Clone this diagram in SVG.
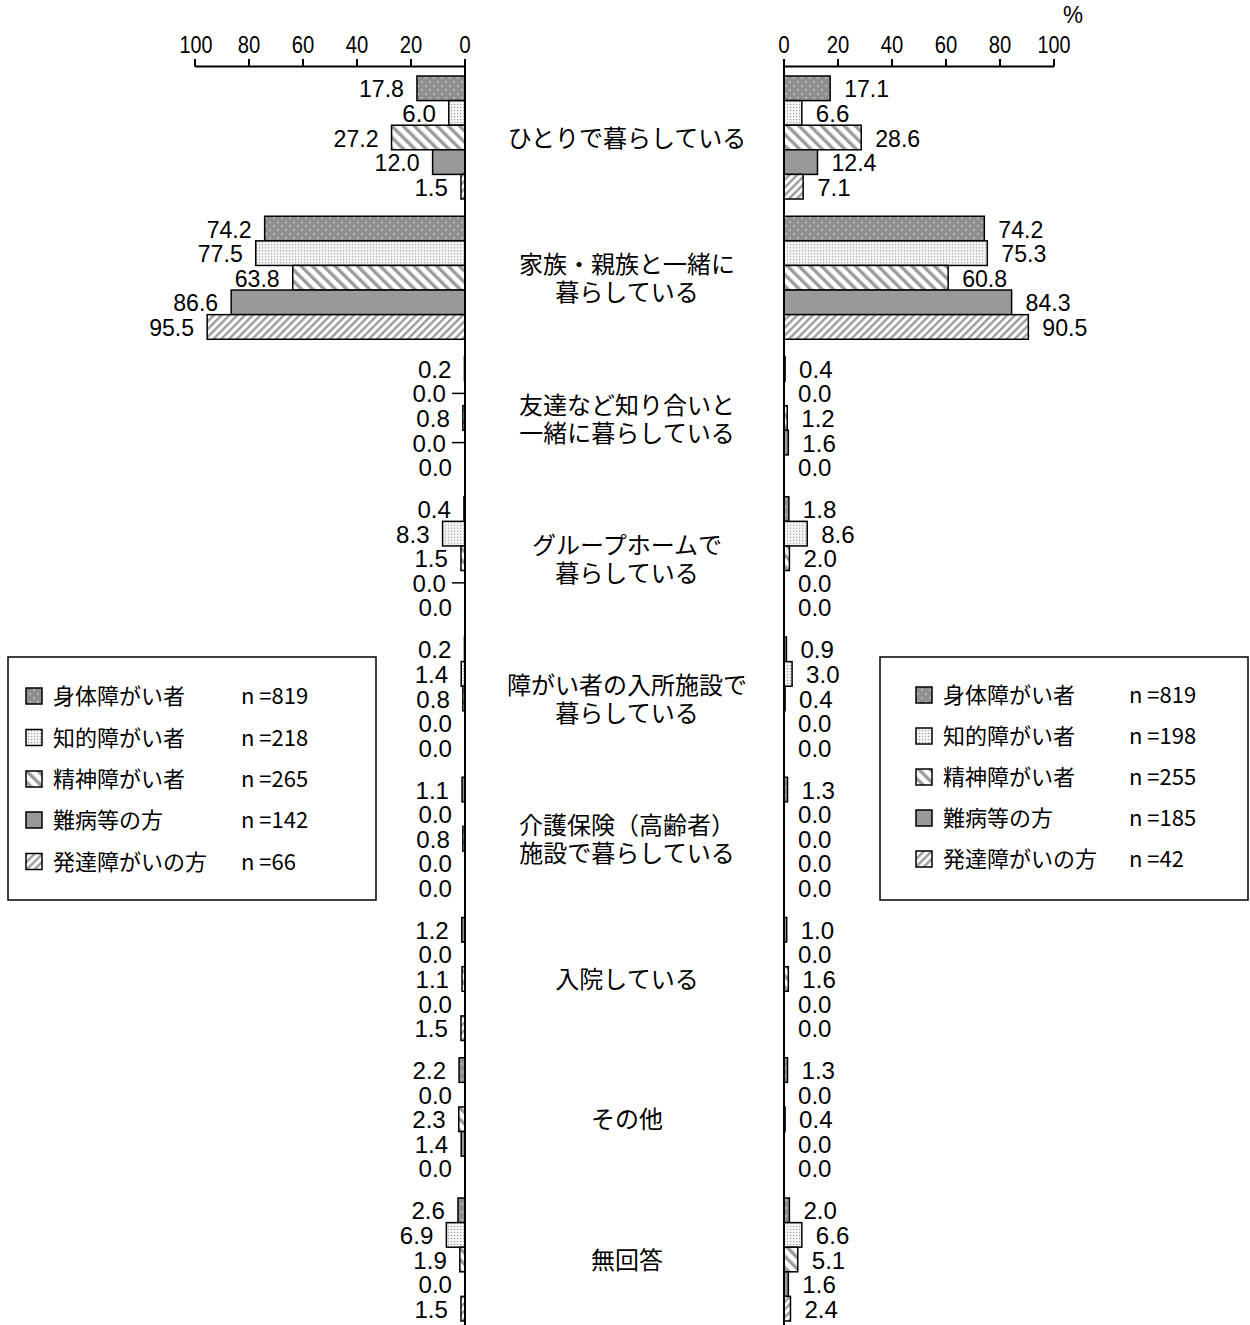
<svg xmlns="http://www.w3.org/2000/svg" width="1250" height="1325" viewBox="0 0 1250 1325">
<defs>
<pattern id="p1" width="8" height="8" patternUnits="userSpaceOnUse"><rect width="8" height="8" fill="#8e8e8e"/><path d="M2 0.8v2.4M0.8 2h2.4M6 4.8v2.4M4.8 6h2.4" stroke="#c6c6c6" stroke-width="0.8"/></pattern>
<pattern id="p2" width="3" height="3" patternUnits="userSpaceOnUse"><rect width="3" height="3" fill="#f4f4f4"/><rect x="1" y="1" width="1.1" height="1.1" fill="#9a9a9a"/></pattern>
<pattern id="p3" width="8" height="8" patternUnits="userSpaceOnUse" patternTransform="rotate(-45)"><rect width="8" height="8" fill="#fff"/><rect width="3.4" height="8" fill="#9c9c9c"/></pattern>
<pattern id="p5" width="5.5" height="5.5" patternUnits="userSpaceOnUse" patternTransform="rotate(45)"><rect width="5.5" height="5.5" fill="#fff"/><rect width="2.4" height="5.5" fill="#9c9c9c"/></pattern>
</defs>
<style>
.b{stroke:#000;stroke-width:1.5}
.f1{fill:url(#p1)}
.f2{fill:url(#p2)}
.f3{fill:url(#p3)}
.f4{fill:#999}
.f5{fill:url(#p5)}
.v{font-family:"Liberation Sans","DejaVu Sans",sans-serif;font-size:24px;fill:#000}
.l{text-anchor:end}
.t{text-anchor:middle}
.c{font-family:"Noto Sans CJK JP","Noto Sans",sans-serif;font-size:24px;fill:#000;text-anchor:middle}
.lg{font-family:"Noto Sans CJK JP","Noto Sans",sans-serif;font-size:22px;fill:#000}
.ax{stroke:#000;stroke-width:2;fill:none}
.dash{stroke:#000;stroke-width:1.5}
.box{fill:#fff;stroke:#000;stroke-width:1.5}
</style>
<rect width="1250" height="1325" fill="#fff"/>

<g id="cat1" transform="translate(0,76)">
<rect class="b f1" x="416.94" y="0" width="48.06" height="24.6"/>
<rect class="b f2" x="448.8" y="24.6" width="16.2" height="24.6"/>
<rect class="b f3" x="391.56" y="49.2" width="73.44" height="24.6"/>
<rect class="b f4" x="432.6" y="73.8" width="32.4" height="24.6"/>
<rect class="b f5" x="460.95" y="98.4" width="4.05" height="24.6"/>
<text class="v l" x="403.94" y="21.3" textLength="45" lengthAdjust="spacingAndGlyphs">17.8</text>
<text class="v l" x="435.8" y="45.9" textLength="33.5" lengthAdjust="spacingAndGlyphs">6.0</text>
<text class="v l" x="378.56" y="70.5" textLength="45" lengthAdjust="spacingAndGlyphs">27.2</text>
<text class="v l" x="419.6" y="95.1" textLength="45" lengthAdjust="spacingAndGlyphs">12.0</text>
<text class="v l" x="447.95" y="119.7" textLength="33.5" lengthAdjust="spacingAndGlyphs">1.5</text>
<rect class="b f1" x="784" y="0" width="46.17" height="24.6"/>
<rect class="b f2" x="784" y="24.6" width="17.82" height="24.6"/>
<rect class="b f3" x="784" y="49.2" width="77.22" height="24.6"/>
<rect class="b f4" x="784" y="73.8" width="33.48" height="24.6"/>
<rect class="b f5" x="784" y="98.4" width="19.17" height="24.6"/>
<text class="v" x="844.17" y="21.3" textLength="45" lengthAdjust="spacingAndGlyphs">17.1</text>
<text class="v" x="815.82" y="45.9" textLength="33.5" lengthAdjust="spacingAndGlyphs">6.6</text>
<text class="v" x="875.22" y="70.5" textLength="45" lengthAdjust="spacingAndGlyphs">28.6</text>
<text class="v" x="831.48" y="95.1" textLength="45" lengthAdjust="spacingAndGlyphs">12.4</text>
<text class="v" x="817.17" y="119.7" textLength="33.5" lengthAdjust="spacingAndGlyphs">7.1</text>
<text class="c" x="627" y="70.5">ひとりで暮らしている</text>
</g>

<g id="cat2" transform="translate(0,216.25)">
<rect class="b f1" x="264.66" y="0" width="200.34" height="24.6"/>
<rect class="b f2" x="255.75" y="24.6" width="209.25" height="24.6"/>
<rect class="b f3" x="292.74" y="49.2" width="172.26" height="24.6"/>
<rect class="b f4" x="231.18" y="73.8" width="233.82" height="24.6"/>
<rect class="b f5" x="207.15" y="98.4" width="257.85" height="24.6"/>
<text class="v l" x="251.66" y="21.3" textLength="45" lengthAdjust="spacingAndGlyphs">74.2</text>
<text class="v l" x="242.75" y="45.9" textLength="45" lengthAdjust="spacingAndGlyphs">77.5</text>
<text class="v l" x="279.74" y="70.5" textLength="45" lengthAdjust="spacingAndGlyphs">63.8</text>
<text class="v l" x="218.18" y="95.1" textLength="45" lengthAdjust="spacingAndGlyphs">86.6</text>
<text class="v l" x="194.15" y="119.7" textLength="45" lengthAdjust="spacingAndGlyphs">95.5</text>
<rect class="b f1" x="784" y="0" width="200.34" height="24.6"/>
<rect class="b f2" x="784" y="24.6" width="203.31" height="24.6"/>
<rect class="b f3" x="784" y="49.2" width="164.16" height="24.6"/>
<rect class="b f4" x="784" y="73.8" width="227.61" height="24.6"/>
<rect class="b f5" x="784" y="98.4" width="244.35" height="24.6"/>
<text class="v" x="998.34" y="21.3" textLength="45" lengthAdjust="spacingAndGlyphs">74.2</text>
<text class="v" x="1001.31" y="45.9" textLength="45" lengthAdjust="spacingAndGlyphs">75.3</text>
<text class="v" x="962.16" y="70.5" textLength="45" lengthAdjust="spacingAndGlyphs">60.8</text>
<text class="v" x="1025.61" y="95.1" textLength="45" lengthAdjust="spacingAndGlyphs">84.3</text>
<text class="v" x="1042.35" y="119.7" textLength="45" lengthAdjust="spacingAndGlyphs">90.5</text>
<text class="c" x="627" y="57">家族・親族と一緒に</text>
<text class="c" x="627" y="85">暮らしている</text>
</g>

<g id="cat3" transform="translate(0,356.5)">
<rect class="b f1" x="464.46" y="0" width="0.54" height="24.6"/>
<rect class="b f3" x="462.84" y="49.2" width="2.16" height="24.6"/>
<line class="dash" x1="452" y1="36.9" x2="465" y2="36.9"/>
<line class="dash" x1="452" y1="86.1" x2="465" y2="86.1"/>
<text class="v l" x="451.46" y="21.3" textLength="33.5" lengthAdjust="spacingAndGlyphs">0.2</text>
<text class="v l" x="446" y="45.9" textLength="33.5" lengthAdjust="spacingAndGlyphs">0.0</text>
<text class="v l" x="449.84" y="70.5" textLength="33.5" lengthAdjust="spacingAndGlyphs">0.8</text>
<text class="v l" x="446" y="95.1" textLength="33.5" lengthAdjust="spacingAndGlyphs">0.0</text>
<text class="v l" x="452" y="119.7" textLength="33.5" lengthAdjust="spacingAndGlyphs">0.0</text>
<rect class="b f1" x="784" y="0" width="1.08" height="24.6"/>
<rect class="b f3" x="784" y="49.2" width="3.24" height="24.6"/>
<rect class="b f4" x="784" y="73.8" width="4.32" height="24.6"/>
<text class="v" x="799.08" y="21.3" textLength="33.5" lengthAdjust="spacingAndGlyphs">0.4</text>
<text class="v" x="798" y="45.9" textLength="33.5" lengthAdjust="spacingAndGlyphs">0.0</text>
<text class="v" x="801.24" y="70.5" textLength="33.5" lengthAdjust="spacingAndGlyphs">1.2</text>
<text class="v" x="802.32" y="95.1" textLength="33.5" lengthAdjust="spacingAndGlyphs">1.6</text>
<text class="v" x="798" y="119.7" textLength="33.5" lengthAdjust="spacingAndGlyphs">0.0</text>
<text class="c" x="627" y="57">友達など知り合いと</text>
<text class="c" x="627" y="85">一緒に暮らしている</text>
</g>

<g id="cat4" transform="translate(0,496.75)">
<rect class="b f1" x="463.92" y="0" width="1.08" height="24.6"/>
<rect class="b f2" x="442.59" y="24.6" width="22.41" height="24.6"/>
<rect class="b f3" x="460.95" y="49.2" width="4.05" height="24.6"/>
<line class="dash" x1="452" y1="86.1" x2="465" y2="86.1"/>
<text class="v l" x="450.92" y="21.3" textLength="33.5" lengthAdjust="spacingAndGlyphs">0.4</text>
<text class="v l" x="429.59" y="45.9" textLength="33.5" lengthAdjust="spacingAndGlyphs">8.3</text>
<text class="v l" x="447.95" y="70.5" textLength="33.5" lengthAdjust="spacingAndGlyphs">1.5</text>
<text class="v l" x="446" y="95.1" textLength="33.5" lengthAdjust="spacingAndGlyphs">0.0</text>
<text class="v l" x="452" y="119.7" textLength="33.5" lengthAdjust="spacingAndGlyphs">0.0</text>
<rect class="b f1" x="784" y="0" width="4.86" height="24.6"/>
<rect class="b f2" x="784" y="24.6" width="23.22" height="24.6"/>
<rect class="b f3" x="784" y="49.2" width="5.4" height="24.6"/>
<text class="v" x="802.86" y="21.3" textLength="33.5" lengthAdjust="spacingAndGlyphs">1.8</text>
<text class="v" x="821.22" y="45.9" textLength="33.5" lengthAdjust="spacingAndGlyphs">8.6</text>
<text class="v" x="803.4" y="70.5" textLength="33.5" lengthAdjust="spacingAndGlyphs">2.0</text>
<text class="v" x="798" y="95.1" textLength="33.5" lengthAdjust="spacingAndGlyphs">0.0</text>
<text class="v" x="798" y="119.7" textLength="33.5" lengthAdjust="spacingAndGlyphs">0.0</text>
<text class="c" x="627" y="57">グループホームで</text>
<text class="c" x="627" y="85">暮らしている</text>
</g>

<g id="cat5" transform="translate(0,637)">
<rect class="b f1" x="464.46" y="0" width="0.54" height="24.6"/>
<rect class="b f2" x="461.22" y="24.6" width="3.78" height="24.6"/>
<rect class="b f3" x="462.84" y="49.2" width="2.16" height="24.6"/>
<text class="v l" x="451.46" y="21.3" textLength="33.5" lengthAdjust="spacingAndGlyphs">0.2</text>
<text class="v l" x="448.22" y="45.9" textLength="33.5" lengthAdjust="spacingAndGlyphs">1.4</text>
<text class="v l" x="449.84" y="70.5" textLength="33.5" lengthAdjust="spacingAndGlyphs">0.8</text>
<text class="v l" x="452" y="95.1" textLength="33.5" lengthAdjust="spacingAndGlyphs">0.0</text>
<text class="v l" x="452" y="119.7" textLength="33.5" lengthAdjust="spacingAndGlyphs">0.0</text>
<rect class="b f1" x="784" y="0" width="2.43" height="24.6"/>
<rect class="b f2" x="784" y="24.6" width="8.1" height="24.6"/>
<rect class="b f3" x="784" y="49.2" width="1.08" height="24.6"/>
<text class="v" x="800.43" y="21.3" textLength="33.5" lengthAdjust="spacingAndGlyphs">0.9</text>
<text class="v" x="806.1" y="45.9" textLength="33.5" lengthAdjust="spacingAndGlyphs">3.0</text>
<text class="v" x="799.08" y="70.5" textLength="33.5" lengthAdjust="spacingAndGlyphs">0.4</text>
<text class="v" x="798" y="95.1" textLength="33.5" lengthAdjust="spacingAndGlyphs">0.0</text>
<text class="v" x="798" y="119.7" textLength="33.5" lengthAdjust="spacingAndGlyphs">0.0</text>
<text class="c" x="627" y="57">障がい者の入所施設で</text>
<text class="c" x="627" y="85">暮らしている</text>
</g>

<g id="cat6" transform="translate(0,777.25)">
<rect class="b f1" x="462.03" y="0" width="2.97" height="24.6"/>
<rect class="b f3" x="462.84" y="49.2" width="2.16" height="24.6"/>
<text class="v l" x="449.03" y="21.3" textLength="33.5" lengthAdjust="spacingAndGlyphs">1.1</text>
<text class="v l" x="452" y="45.9" textLength="33.5" lengthAdjust="spacingAndGlyphs">0.0</text>
<text class="v l" x="449.84" y="70.5" textLength="33.5" lengthAdjust="spacingAndGlyphs">0.8</text>
<text class="v l" x="452" y="95.1" textLength="33.5" lengthAdjust="spacingAndGlyphs">0.0</text>
<text class="v l" x="452" y="119.7" textLength="33.5" lengthAdjust="spacingAndGlyphs">0.0</text>
<rect class="b f1" x="784" y="0" width="3.51" height="24.6"/>
<text class="v" x="801.51" y="21.3" textLength="33.5" lengthAdjust="spacingAndGlyphs">1.3</text>
<text class="v" x="798" y="45.9" textLength="33.5" lengthAdjust="spacingAndGlyphs">0.0</text>
<text class="v" x="798" y="70.5" textLength="33.5" lengthAdjust="spacingAndGlyphs">0.0</text>
<text class="v" x="798" y="95.1" textLength="33.5" lengthAdjust="spacingAndGlyphs">0.0</text>
<text class="v" x="798" y="119.7" textLength="33.5" lengthAdjust="spacingAndGlyphs">0.0</text>
<text class="c" x="627" y="57">介護保険（高齢者）</text>
<text class="c" x="627" y="85">施設で暮らしている</text>
</g>

<g id="cat7" transform="translate(0,917.5)">
<rect class="b f1" x="461.76" y="0" width="3.24" height="24.6"/>
<rect class="b f3" x="462.03" y="49.2" width="2.97" height="24.6"/>
<rect class="b f5" x="460.95" y="98.4" width="4.05" height="24.6"/>
<text class="v l" x="448.76" y="21.3" textLength="33.5" lengthAdjust="spacingAndGlyphs">1.2</text>
<text class="v l" x="452" y="45.9" textLength="33.5" lengthAdjust="spacingAndGlyphs">0.0</text>
<text class="v l" x="449.03" y="70.5" textLength="33.5" lengthAdjust="spacingAndGlyphs">1.1</text>
<text class="v l" x="452" y="95.1" textLength="33.5" lengthAdjust="spacingAndGlyphs">0.0</text>
<text class="v l" x="447.95" y="119.7" textLength="33.5" lengthAdjust="spacingAndGlyphs">1.5</text>
<rect class="b f1" x="784" y="0" width="2.7" height="24.6"/>
<rect class="b f3" x="784" y="49.2" width="4.32" height="24.6"/>
<text class="v" x="800.7" y="21.3" textLength="33.5" lengthAdjust="spacingAndGlyphs">1.0</text>
<text class="v" x="798" y="45.9" textLength="33.5" lengthAdjust="spacingAndGlyphs">0.0</text>
<text class="v" x="802.32" y="70.5" textLength="33.5" lengthAdjust="spacingAndGlyphs">1.6</text>
<text class="v" x="798" y="95.1" textLength="33.5" lengthAdjust="spacingAndGlyphs">0.0</text>
<text class="v" x="798" y="119.7" textLength="33.5" lengthAdjust="spacingAndGlyphs">0.0</text>
<text class="c" x="627" y="70.5">入院している</text>
</g>

<g id="cat8" transform="translate(0,1057.75)">
<rect class="b f1" x="459.06" y="0" width="5.94" height="24.6"/>
<rect class="b f3" x="458.79" y="49.2" width="6.21" height="24.6"/>
<rect class="b f4" x="461.22" y="73.8" width="3.78" height="24.6"/>
<text class="v l" x="446.06" y="21.3" textLength="33.5" lengthAdjust="spacingAndGlyphs">2.2</text>
<text class="v l" x="452" y="45.9" textLength="33.5" lengthAdjust="spacingAndGlyphs">0.0</text>
<text class="v l" x="445.79" y="70.5" textLength="33.5" lengthAdjust="spacingAndGlyphs">2.3</text>
<text class="v l" x="448.22" y="95.1" textLength="33.5" lengthAdjust="spacingAndGlyphs">1.4</text>
<text class="v l" x="452" y="119.7" textLength="33.5" lengthAdjust="spacingAndGlyphs">0.0</text>
<rect class="b f1" x="784" y="0" width="3.51" height="24.6"/>
<rect class="b f3" x="784" y="49.2" width="1.08" height="24.6"/>
<text class="v" x="801.51" y="21.3" textLength="33.5" lengthAdjust="spacingAndGlyphs">1.3</text>
<text class="v" x="798" y="45.9" textLength="33.5" lengthAdjust="spacingAndGlyphs">0.0</text>
<text class="v" x="799.08" y="70.5" textLength="33.5" lengthAdjust="spacingAndGlyphs">0.4</text>
<text class="v" x="798" y="95.1" textLength="33.5" lengthAdjust="spacingAndGlyphs">0.0</text>
<text class="v" x="798" y="119.7" textLength="33.5" lengthAdjust="spacingAndGlyphs">0.0</text>
<text class="c" x="627" y="70.5">その他</text>
</g>

<g id="cat9" transform="translate(0,1198)">
<rect class="b f1" x="457.98" y="0" width="7.02" height="24.6"/>
<rect class="b f2" x="446.37" y="24.6" width="18.63" height="24.6"/>
<rect class="b f3" x="459.87" y="49.2" width="5.13" height="24.6"/>
<rect class="b f5" x="460.95" y="98.4" width="4.05" height="24.6"/>
<text class="v l" x="444.98" y="21.3" textLength="33.5" lengthAdjust="spacingAndGlyphs">2.6</text>
<text class="v l" x="433.37" y="45.9" textLength="33.5" lengthAdjust="spacingAndGlyphs">6.9</text>
<text class="v l" x="446.87" y="70.5" textLength="33.5" lengthAdjust="spacingAndGlyphs">1.9</text>
<text class="v l" x="452" y="95.1" textLength="33.5" lengthAdjust="spacingAndGlyphs">0.0</text>
<text class="v l" x="447.95" y="119.7" textLength="33.5" lengthAdjust="spacingAndGlyphs">1.5</text>
<rect class="b f1" x="784" y="0" width="5.4" height="24.6"/>
<rect class="b f2" x="784" y="24.6" width="17.82" height="24.6"/>
<rect class="b f3" x="784" y="49.2" width="13.77" height="24.6"/>
<rect class="b f4" x="784" y="73.8" width="4.32" height="24.6"/>
<rect class="b f5" x="784" y="98.4" width="6.48" height="24.6"/>
<text class="v" x="803.4" y="21.3" textLength="33.5" lengthAdjust="spacingAndGlyphs">2.0</text>
<text class="v" x="815.82" y="45.9" textLength="33.5" lengthAdjust="spacingAndGlyphs">6.6</text>
<text class="v" x="811.77" y="70.5" textLength="33.5" lengthAdjust="spacingAndGlyphs">5.1</text>
<text class="v" x="802.32" y="95.1" textLength="33.5" lengthAdjust="spacingAndGlyphs">1.6</text>
<text class="v" x="804.48" y="119.7" textLength="33.5" lengthAdjust="spacingAndGlyphs">2.4</text>
<text class="c" x="627" y="70.5">無回答</text>
</g>

<g id="axes">
<path class="ax" d="M195 66.5H465M195 59V66.5M249 59V66.5M303 59V66.5M357 59V66.5M411 59V66.5M465 59V1325"/>
<path class="ax" d="M784 66.5H1054M1054 59V66.5M1000 59V66.5M946 59V66.5M892 59V66.5M838 59V66.5M784 59V1325"/>
<text class="v t" x="196" y="53" textLength="33" lengthAdjust="spacingAndGlyphs">100</text>
<text class="v t" x="249" y="53" textLength="22.5" lengthAdjust="spacingAndGlyphs">80</text>
<text class="v t" x="303" y="53" textLength="22.5" lengthAdjust="spacingAndGlyphs">60</text>
<text class="v t" x="357" y="53" textLength="22.5" lengthAdjust="spacingAndGlyphs">40</text>
<text class="v t" x="411" y="53" textLength="22.5" lengthAdjust="spacingAndGlyphs">20</text>
<text class="v t" x="465" y="53" textLength="11.5" lengthAdjust="spacingAndGlyphs">0</text>
<text class="v t" x="784" y="53" textLength="11.5" lengthAdjust="spacingAndGlyphs">0</text>
<text class="v t" x="838" y="53" textLength="22.5" lengthAdjust="spacingAndGlyphs">20</text>
<text class="v t" x="892" y="53" textLength="22.5" lengthAdjust="spacingAndGlyphs">40</text>
<text class="v t" x="946" y="53" textLength="22.5" lengthAdjust="spacingAndGlyphs">60</text>
<text class="v t" x="1000" y="53" textLength="22.5" lengthAdjust="spacingAndGlyphs">80</text>
<text class="v t" x="1054" y="53" textLength="33" lengthAdjust="spacingAndGlyphs">100</text>
<text class="v t" x="1073" y="23" textLength="20" lengthAdjust="spacingAndGlyphs">%</text>
</g>

<g id="legend-left">
<rect class="box" x="8" y="657" width="368" height="243"/>
<rect class="b f1" x="26" y="688" width="16" height="16"/>
<rect class="b f2" x="26" y="729.5" width="16" height="16"/>
<rect class="b f3" x="26" y="771" width="16" height="16"/>
<rect class="b f4" x="26" y="812" width="16" height="16"/>
<rect class="b f5" x="26" y="853.5" width="16" height="16"/>
<text class="lg" x="53" y="704">身体障がい者</text>
<text class="lg" x="53" y="745.5">知的障がい者</text>
<text class="lg" x="53" y="787">精神障がい者</text>
<text class="lg" x="53" y="828">難病等の方</text>
<text class="lg" x="53" y="869.5">発達障がいの方</text>
<text class="lg" x="241" y="704">n =819</text>
<text class="lg" x="241" y="745.5">n =218</text>
<text class="lg" x="241" y="787">n =265</text>
<text class="lg" x="241" y="828">n =142</text>
<text class="lg" x="241" y="869.5">n =66</text>
</g>

<g id="legend-right">
<rect class="box" x="880" y="657" width="368" height="243"/>
<rect class="b f1" x="916" y="687" width="16" height="16"/>
<rect class="b f2" x="916" y="728" width="16" height="16"/>
<rect class="b f3" x="916" y="769" width="16" height="16"/>
<rect class="b f4" x="916" y="810" width="16" height="16"/>
<rect class="b f5" x="916" y="851" width="16" height="16"/>
<text class="lg" x="943" y="703">身体障がい者</text>
<text class="lg" x="943" y="744">知的障がい者</text>
<text class="lg" x="943" y="785">精神障がい者</text>
<text class="lg" x="943" y="826">難病等の方</text>
<text class="lg" x="943" y="867">発達障がいの方</text>
<text class="lg" x="1129" y="703">n =819</text>
<text class="lg" x="1129" y="744">n =198</text>
<text class="lg" x="1129" y="785">n =255</text>
<text class="lg" x="1129" y="826">n =185</text>
<text class="lg" x="1129" y="867">n =42</text>
</g>
</svg>
